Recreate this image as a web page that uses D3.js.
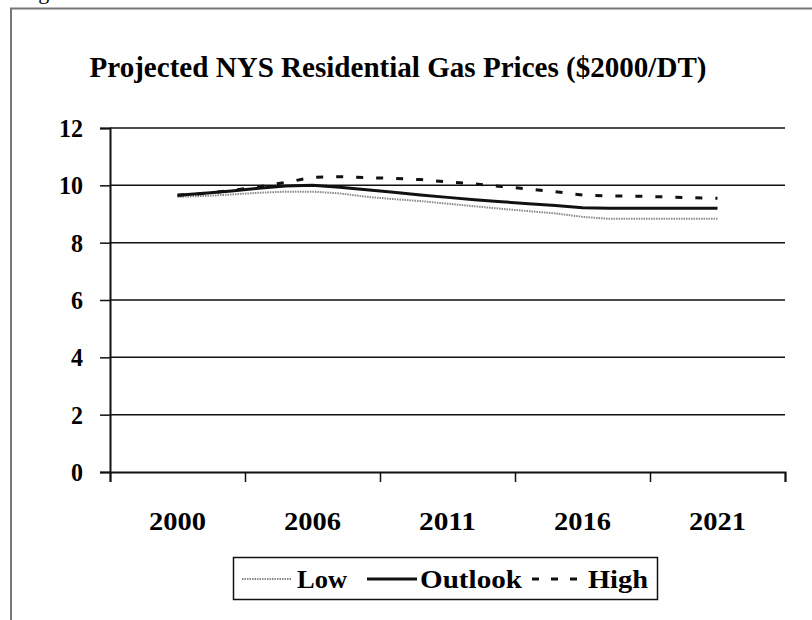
<!DOCTYPE html>
<html>
<head>
<meta charset="utf-8">
<script src="https://cdn.jsdelivr.net/npm/d3@7"></script>
<style>
  body { margin: 0; background: #fff; }
  svg text { font-family: "Liberation Serif", "Times New Roman", serif; font-weight: bold; fill: #000; }
</style>
</head>
<body>
<div id="chart"></div>
<script>
// categories: 2 blank slots either side, as in the source chart
const years = [2000, 2002, 2003, 2004, 2005, 2006, 2007, 2008, 2009, 2010, 2011,
  2012, 2013, 2014, 2015, 2016, 2017, 2018, 2019, 2020, 2021];
const tickLabels = ["2000", "2006", "2011", "2016", "2021"];
const yTicks = [0, 2, 4, 6, 8, 10, 12];

const lowValues = [9.6, 9.63, 9.68, 9.74, 9.78, 9.78, 9.72, 9.6, 9.52, 9.45, 9.36,
  9.27, 9.18, 9.1, 9.02, 8.9, 8.83, 8.83, 8.83, 8.83, 8.83];
const outlookValues = [9.65, 9.72, 9.8, 9.9, 9.98, 10.0, 9.93, 9.85, 9.76, 9.66, 9.58,
  9.5, 9.43, 9.36, 9.3, 9.22, 9.2, 9.2, 9.2, 9.2, 9.2];
const highValues = [9.65, 9.72, 9.82, 9.95, 10.1, 10.28, 10.3, 10.27, 10.24, 10.2, 10.12,
  10.05, 9.96, 9.87, 9.78, 9.66, 9.63, 9.62, 9.6, 9.57, 9.55];

const series = [
  { name: "Low", values: lowValues, stroke: "#888", width: 2, dash: "1.5,1" },
  { name: "Outlook", values: outlookValues, stroke: "#111", width: 3, dash: null },
  { name: "High", values: highValues, stroke: "#111", width: 3, dash: "7,13" }
];

const W = 812, H = 620;
const plot = { left: 110, right: 785, top: 128, bottom: 472 };

const svg = d3.select("#chart").append("svg")
  .attr("width", W)
  .attr("height", H);

// outer frame (cut off at right / bottom)
svg.append("path")
  .attr("d", `M11,${H} V8.5 H${W}`)
  .attr("fill", "none")
  .attr("stroke", "#777")
  .attr("stroke-width", 2);

// fragment of caption above the frame
svg.append("text")
  .attr("x", 20)
  .attr("y", -1)
  .attr("font-size", "22px")
  .style("font-weight", "normal")
  .text("Fig");

// index scale, with two empty categories at each end
const x = d3.scaleLinear()
  .domain([-2.5, years.length + 1.5])
  .range([plot.left, plot.right]);

const y = d3.scaleLinear()
  .domain([0, 12])
  .range([plot.bottom, plot.top]);

svg.append("text")
  .attr("x", 398)
  .attr("y", 77)
  .attr("text-anchor", "middle")
  .attr("font-size", "29px")
  .attr("textLength", 617)
  .attr("lengthAdjust", "spacingAndGlyphs")
  .text("Projected NYS Residential Gas Prices ($2000/DT)");

// gridlines
svg.append("g")
  .selectAll("line")
  .data(yTicks.filter(d => d > 0))
  .enter()
  .append("line")
  .attr("x1", plot.left)
  .attr("x2", plot.right)
  .attr("y1", d => y(d))
  .attr("y2", d => y(d))
  .attr("stroke", "#111")
  .attr("stroke-width", 1.5);

// y axis
const yAxis = svg.append("g")
  .attr("transform", `translate(${plot.left},0)`)
  .call(d3.axisLeft(y).tickValues(yTicks).tickSize(10).tickPadding(17));
yAxis.select(".domain").attr("stroke", "#111").attr("stroke-width", 2);
yAxis.selectAll(".tick line").attr("stroke", "#111").attr("stroke-width", 1.5);
yAxis.selectAll(".tick text")
  .attr("font-size", "25px")
  .attr("fill", "#000")
  .attr("dy", "0.34em")
  .attr("textLength", d => d >= 10 ? 24 : 12)
  .attr("lengthAdjust", "spacingAndGlyphs");

// x axis: ticks every 5 categories, labels centred between
const xTickPos = d3.range(-2.5, years.length + 2, 5);
const xAxis = svg.append("g")
  .attr("transform", `translate(0,${plot.bottom})`)
  .call(d3.axisBottom(x).tickValues(xTickPos).tickSize(10).tickFormat(""));
xAxis.select(".domain").attr("stroke", "#111").attr("stroke-width", 2);
xAxis.selectAll(".tick line").attr("stroke", "#111").attr("stroke-width", 1.5);

svg.append("g")
  .selectAll("text")
  .data(tickLabels)
  .enter()
  .append("text")
  .attr("x", (d, i) => x(i * 5))
  .attr("y", plot.bottom + 58)
  .attr("text-anchor", "middle")
  .attr("font-size", "26px")
  .attr("textLength", 57)
  .attr("lengthAdjust", "spacingAndGlyphs")
  .text(d => d);

// lines
const line = d3.line()
  .x((d, i) => x(i))
  .y(d => y(d));

svg.append("g")
  .selectAll("path")
  .data(series)
  .enter()
  .append("path")
  .attr("d", d => line(d.values))
  .attr("fill", "none")
  .attr("stroke", d => d.stroke)
  .attr("stroke-width", d => d.width)
  .attr("stroke-dasharray", d => d.dash);

// legend
const legend = svg.append("g");
legend.append("rect")
  .attr("x", 233.5)
  .attr("y", 557.5)
  .attr("width", 424)
  .attr("height", 42)
  .attr("fill", "#fff")
  .attr("stroke", "#111")
  .attr("stroke-width", 1.5);

const legendItems = [
  { s: series[0], x0: 242, x1: 292, tx: 297, tl: 50 },
  { s: series[1], x0: 367, x1: 417, tx: 420, tl: 102 },
  { s: series[2], x0: 532, x1: 583, tx: 588, tl: 60 }
];
legendItems.forEach(it => {
  legend.append("line")
    .attr("x1", it.x0).attr("x2", it.x1)
    .attr("y1", 579).attr("y2", 579)
    .attr("stroke", it.s.stroke)
    .attr("stroke-width", it.s.width)
    .attr("stroke-dasharray", it.s.name === "High" ? "7,12" : it.s.dash);
  legend.append("text")
    .attr("x", it.tx)
    .attr("y", 588)
    .attr("font-size", "26px")
    .attr("textLength", it.tl)
    .attr("lengthAdjust", "spacingAndGlyphs")
    .text(it.s.name);
});
</script>
</body>
</html>
